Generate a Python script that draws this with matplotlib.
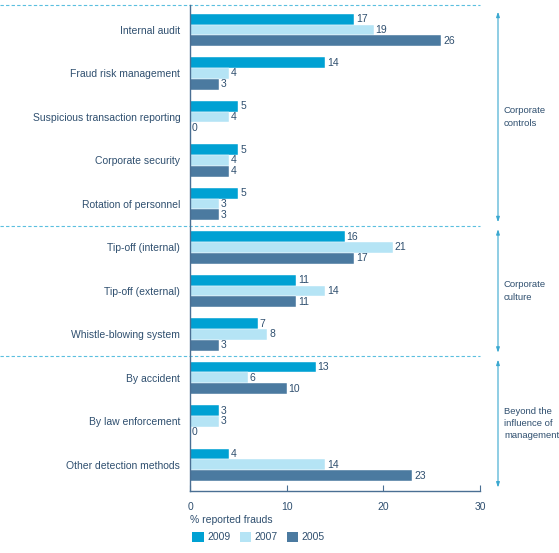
import numpy as np
import matplotlib.pyplot as plt
from matplotlib.patches import Patch

plt.rcParams["font.family"] = ["Liberation Sans", "DejaVu Sans"]

categories = ["Internal audit", "Fraud risk management", "Suspicious transaction reporting",
              "Corporate security", "Rotation of personnel", "Tip-off (internal)",
              "Tip-off (external)", "Whistle-blowing system", "By accident",
              "By law enforcement", "Other detection methods"]
v2009 = [17, 14, 5, 5, 5, 16, 11, 7, 13, 3, 4]
v2007 = [19, 4, 4, 4, 3, 21, 14, 8, 6, 3, 14]
v2005 = [26, 3, 0, 4, 3, 17, 11, 3, 10, 0, 23]
years = ["2009", "2007", "2005"]
groups = ["Corporate\ncontrols", "Corporate\nculture", "Beyond the\ninfluence of\nmanagement"]
group_spans = [(-0.5, 4.5), (4.5, 7.5), (7.5, 10.6)]

c09, c07, c05 = "#00a1d3", "#b5e4f5", "#4b7aa0"
txt = "#2f4f6f"
dash = "#5bbfdf"

fig = plt.figure(figsize=(5.59, 5.53), dpi=100)
ax = fig.add_axes([190 / 559, 1 - 491 / 553, 290 / 559, 486 / 553])

y = np.arange(len(categories))
h = 0.25
for vals, col, off in [(v2009, c09, -h), (v2007, c07, 0), (v2005, c05, h)]:
    bars = ax.barh(y + off, vals, height=h, color=col, edgecolor="white", linewidth=0.3)
    for b, v in zip(bars, vals):
        ax.text(b.get_width() + 0.2, b.get_y() + b.get_height() / 2, str(v),
                va="center", ha="left", fontsize=7.5, color=txt)

ax.set_xlim(0, 30)
ax.set_ylim(10.6, -0.575)
ax.set_yticks(y)
ax.set_yticklabels(categories, fontsize=7.5, color=txt)
ax.tick_params(axis="y", length=0, pad=7)
ax.set_xticks([0, 10, 20, 30])
ax.tick_params(axis="x", direction="in", length=4, color="#4a6f93", labelsize=7.5,
               labelcolor=txt, pad=8)
for s in ["top", "right"]:
    ax.spines[s].set_visible(False)
for s in ["left", "bottom"]:
    ax.spines[s].set_color("#4a6f93")
    ax.spines[s].set_linewidth(1.0)

# dashed separators
tr = ax.get_yaxis_transform()
for yy in [-0.575, 4.5, 7.5]:
    ax.plot([-190 / 290, 1.0], [yy, yy], transform=tr, ls=(0, (3, 2)), lw=0.8,
            color=dash, clip_on=False)

# group arrows and labels
ax_x = (498 - 190) / 290
for (a, b), lab in zip(group_spans, groups):
    ax.annotate("", xy=(ax_x, a + 0.08), xytext=(ax_x, b - 0.08), xycoords=tr, textcoords=tr,
                arrowprops=dict(arrowstyle="<|-|>,head_length=0.3,head_width=0.1",
                                color="#3aa8d0", lw=0.8, shrinkA=0, shrinkB=0))
    ax.text((504 - 190) / 290, (a + b) / 2, lab, transform=tr, fontsize=6.8, color=txt,
            ha="left", va="center", linespacing=1.45)

fig.text(190 / 559, 1 - 520 / 553, "% reported frauds", fontsize=7.5, color=txt,
         ha="left", va="center")
handles = [Patch(facecolor=c, edgecolor="none") for c in (c09, c07, c05)]
fig.legend(handles, years, loc="center left", bbox_to_anchor=(183 / 559, 1 - 537 / 553),
           ncol=3, frameon=False, fontsize=7.5, labelcolor=txt, handlelength=1.1,
           handleheight=1.1, handletextpad=0.3, columnspacing=0.9)

fig.savefig("out.png", dpi=100)
